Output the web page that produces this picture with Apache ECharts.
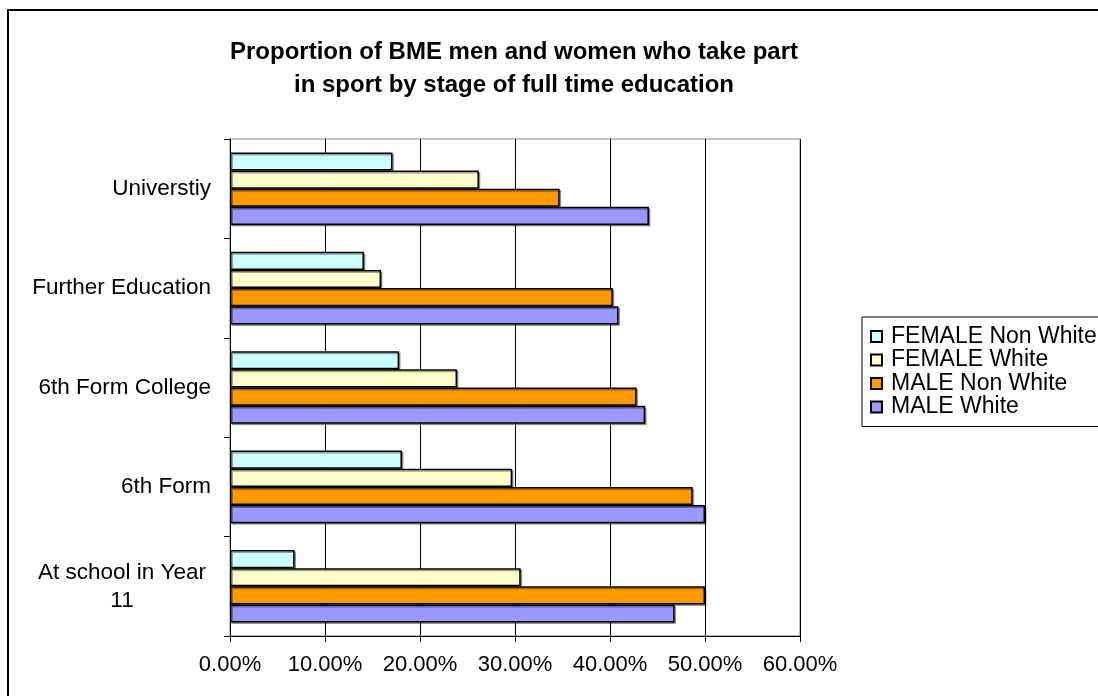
<!DOCTYPE html>
<html>
<head>
<meta charset="utf-8">
<script src="https://cdn.jsdelivr.net/npm/echarts@6/dist/echarts.min.js"></script>
<style>
html,body{margin:0;padding:0;background:#fff;}
#chart{width:1098px;height:696px;}
</style>
</head>
<body>
<div id="chart"></div>
<script>
const categories = ['At school in Year 11', '6th Form', '6th Form College', 'Further Education', 'Universtiy'];
const seriesNames = ['FEMALE Non White', 'FEMALE White', 'MALE Non White', 'MALE White'];
const femaleNonWhite = [0.068, 0.181, 0.178, 0.141, 0.171];
const femaleWhite    = [0.306, 0.297, 0.239, 0.159, 0.262];
const maleNonWhite   = [0.500, 0.487, 0.428, 0.403, 0.347];
const maleWhite      = [0.468, 0.500, 0.437, 0.409, 0.441];
const xTicks = [0, 0.1, 0.2, 0.3, 0.4, 0.5, 0.6];
const colors = ['#CCFFFF', '#FFFFCC', '#FF9900', '#9999FF'];

const dataSets = [femaleNonWhite, femaleWhite, maleNonWhite, maleWhite];
const FONT = '"Liberation Sans", Arial, sans-serif';

const chart = echarts.init(document.getElementById('chart'));
chart.setOption({
  animation: false,
  backgroundColor: '#fff',
  title: {
    text: 'Proportion of BME men and women who take part\nin sport by stage of full time education',
    left: 514, textAlign: 'center', top: 36, padding: 0,
    textStyle: {fontFamily: FONT, fontSize: 24, fontWeight: 'bold', color: '#000', lineHeight: 33}
  },
  graphic: [{
    type: 'rect', z: 100, silent: true,
    shape: {x: 8, y: 10, width: 1300, height: 1000},
    style: {fill: 'none', stroke: '#000', lineWidth: 2}
  }],
  legend: {
    orient: 'vertical', left: 862, top: 317,
    padding: [8, 40, 8, 8], itemGap: 0.5,
    itemWidth: 11, itemHeight: 11,
    borderColor: '#000', borderWidth: 1,
    icon: 'rect',
    textStyle: {fontFamily: FONT, fontSize: 23, color: '#000', padding: [0, 0, 0, 4]},
    data: seriesNames
  },
  grid: {left: 230, right: 298, top: 139, bottom: 60, show: true, borderColor: '#808080', borderWidth: 1},
  xAxis: {
    type: 'value', min: 0, max: 0.6, interval: 0.1,
    axisLine: {show: true, lineStyle: {color: '#000', width: 1}},
    axisTick: {show: true, length: 6, lineStyle: {color: '#000'}},
    splitLine: {show: true, lineStyle: {color: '#000', width: 1}},
    axisLabel: {
      margin: 18, fontFamily: FONT, fontSize: 22, color: '#000',
      formatter: v => (v * 100).toFixed(2) + '%'
    }
  },
  yAxis: {
    type: 'category', data: categories,
    axisLine: {show: true, lineStyle: {color: '#000', width: 1}},
    axisTick: {show: true, length: 6, lineStyle: {color: '#000'}},
    axisLabel: {
      margin: 19, fontFamily: FONT, fontSize: 22.5, color: '#000',
      formatter: v => v === 'At school in Year 11' ? '{c|At school in Year}\n{c|11}' : v,
      rich: {c: {width: 178, align: 'center', fontFamily: FONT, fontSize: 22.5, color: '#000', lineHeight: 28}}
    }
  },
  series: seriesNames.map((n, i) => ({
    name: n, type: 'bar', data: dataSets[i],
    barGap: '0%', barCategoryGap: '27%',
    itemStyle: {color: colors[i], borderColor: '#000', borderWidth: 1.5,
      shadowColor: 'rgba(0,0,0,0.35)', shadowOffsetX: 1.5, shadowOffsetY: 1.5, shadowBlur: 0}
  }))
});
</script>
</body>
</html>
